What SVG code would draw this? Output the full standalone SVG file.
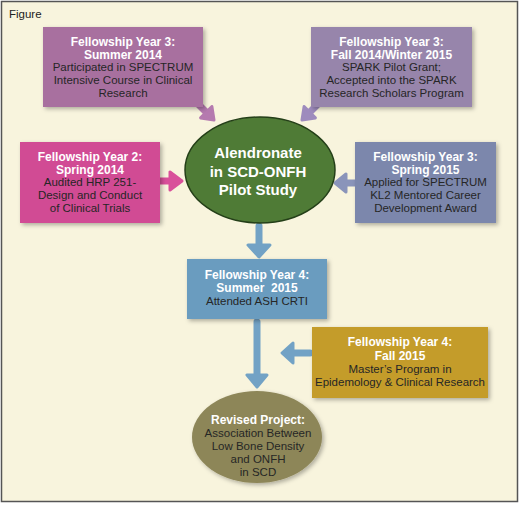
<svg xmlns="http://www.w3.org/2000/svg" width="520" height="508" viewBox="0 0 520 508">
<defs>
<filter id="sh" x="-10%" y="-10%" width="125%" height="130%">
<feDropShadow dx="2" dy="2" stdDeviation="2" flood-color="#000" flood-opacity="0.3"/>
</filter>
<style>
text{font-family:"Liberation Sans",Arial,sans-serif;text-anchor:middle}
.h{font-weight:bold;font-size:12px;fill:#ffffff}
.t{font-size:11.5px;fill:#262626}
.e{font-weight:bold;font-size:15px;fill:#ffffff}
.box{filter:url(#sh)}
.arr{stroke-width:7;stroke-linecap:round;fill:none}
.hd{stroke-width:3;stroke-linejoin:round}
</style>
</defs>
<rect x="0" y="0" width="520" height="508" fill="#ffffff"/>
<rect x="1.5" y="1.5" width="516" height="500" fill="#f8f4dd" stroke="#555" stroke-width="1.5"/>
<text x="9" y="18" style="text-anchor:start;font-size:11.5px;fill:#222">Figure</text>

<g id="connectors">
<g stroke="#b57aaf" fill="#b57aaf">
<line class="arr" x1="199" y1="105" x2="207" y2="113"/>
<polygon class="hd" points="214,120 211.9,106.5 200.6,117.9"/>
</g>
<g stroke="#9e8bbd" fill="#9e8bbd">
<line class="arr" x1="317" y1="105" x2="309" y2="113"/>
<polygon class="hd" points="302,120 304.1,106.5 315.4,117.9"/>
</g>
<g stroke="#d9509a" fill="#d9509a">
<line class="arr" x1="160" y1="181" x2="171" y2="181"/>
<polygon class="hd" points="182,181 170,172 170,190"/>
</g>
<g stroke="#8a94ba" fill="#8a94ba">
<line class="arr" x1="355" y1="183" x2="345" y2="183"/>
<polygon class="hd" points="335,183 346,174 346,192"/>
</g>
<g stroke="#72a2c5" fill="#72a2c5">
<line class="arr" x1="259" y1="226" x2="259" y2="246"/>
<polygon class="hd" points="259,257 248,245 270,245"/>
<line class="arr" x1="257" y1="322" x2="257" y2="376"/>
<polygon class="hd" points="257,387 247,375 267,375"/>
<line class="arr" x1="310" y1="353" x2="292" y2="353"/>
<polygon class="hd" points="282,353 293,343 293,363"/>
</g>
</g>

<g id="n1">
<rect class="box" x="43" y="27" width="160" height="80" fill="#a8709f"/>
<text class="h" x="123" y="46">Fellowship Year 3:</text>
<text class="h" x="123" y="58.5">Summer 2014</text>
<text class="t" x="123" y="71">Participated in SPECTRUM</text>
<text class="t" x="123" y="84">Intensive Course in Clinical</text>
<text class="t" x="123" y="97">Research</text>
</g>

<g id="n2">
<rect class="box" x="311" y="27" width="161" height="80" fill="#9785ab"/>
<text class="h" x="391.5" y="46">Fellowship Year 3:</text>
<text class="h" x="391.5" y="58.5">Fall 2014/Winter 2015</text>
<text class="t" x="391.5" y="71">SPARK Pilot Grant;</text>
<text class="t" x="391.5" y="84">Accepted into the SPARK</text>
<text class="t" x="391.5" y="97">Research Scholars Program</text>
</g>

<g id="n3">
<rect class="box" x="20" y="142" width="140" height="81" fill="#d14c94"/>
<text class="h" x="90" y="161">Fellowship Year 2:</text>
<text class="h" x="90" y="173.5">Spring 2014</text>
<text class="t" x="90" y="186">Audited HRP 251-</text>
<text class="t" x="90" y="199">Design and Conduct</text>
<text class="t" x="90" y="211.5">of Clinical Trials</text>
</g>

<g id="n4">
<rect class="box" x="355" y="142" width="141" height="81" fill="#7c87ac"/>
<text class="h" x="425.5" y="161">Fellowship Year 3:</text>
<text class="h" x="425.5" y="173.5">Spring 2015</text>
<text class="t" x="425.5" y="186">Applied for SPECTRUM</text>
<text class="t" x="425.5" y="199">KL2 Mentored Career</text>
<text class="t" x="425.5" y="211.5">Development Award</text>
</g>

<g id="center">
<ellipse cx="260" cy="170" rx="75" ry="53" fill="#4f7b36" stroke="#243f18" stroke-width="1.5"/>
<text class="e" x="258" y="158">Alendronate</text>
<text class="e" x="258" y="176.5">in SCD-ONFH</text>
<text class="e" x="258" y="195">Pilot Study</text>
</g>

<g id="n5">
<rect class="box" x="187" y="259" width="140" height="60" fill="#6b9cbf"/>
<text class="h" x="257" y="279">Fellowship Year 4:</text>
<text class="h" x="257" y="292" xml:space="preserve">Summer  2015</text>
<text class="t" x="257" y="305">Attended ASH CRTI</text>
</g>

<g id="n6">
<rect class="box" x="312" y="327" width="176" height="71" fill="#c49c2c"/>
<text class="h" x="400" y="346">Fellowship Year 4:</text>
<text class="h" x="400" y="359.5">Fall 2015</text>
<text class="t" x="400" y="373">Master’s Program in</text>
<text class="t" x="400" y="386">Epidemology &amp; Clinical Research</text>
</g>

<g id="result">
<ellipse class="box" cx="257" cy="437" rx="65" ry="46" fill="#8d8659"/>
<text class="h" x="258" y="424">Revised Project:</text>
<text class="t" x="258" y="437">Association Between</text>
<text class="t" x="258" y="450">Low Bone Density</text>
<text class="t" x="258" y="463">and ONFH</text>
<text class="t" x="258" y="476">in SCD</text>
</g>
</svg>
